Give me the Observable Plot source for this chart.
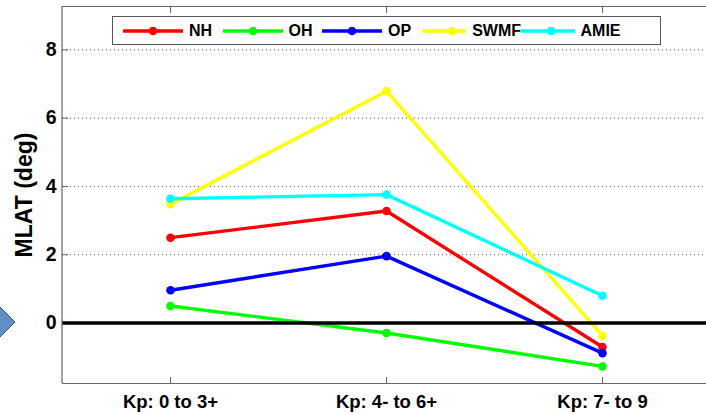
<!DOCTYPE html>
<html>
<head>
<meta charset="utf-8">
<script src="https://cdn.jsdelivr.net/npm/d3@7"></script>
<script src="https://cdn.jsdelivr.net/npm/@observablehq/plot@0.6"></script>
<style>
  html, body { margin: 0; padding: 0; background: #fff; }
  #wrap { position: relative; width: 706px; height: 414px; overflow: hidden; font-family: "Liberation Sans", Arial, sans-serif; }
  #legend { position: absolute; left: 112px; top: 16px; width: 549px; height: 29px; border: 1px solid #555; background: #fff;
            display: flex; align-items: center; font-weight: bold; font-size: 16px; color: #000; box-sizing: border-box; padding-left: 10px; }
  .item { display: flex; align-items: center; margin-right: 0; }
  .item svg { margin-right: 6px; }
  #arrow { position: absolute; left: 0; top: 0; }
</style>
</head>
<body>
<div id="wrap"></div>
<script>
const categories = ["Kp: 0 to 3+", "Kp: 4- to 6+", "Kp: 7- to 9"];
const seriesNames = ["NH", "OH", "OP", "SWMF", "AMIE"];
const seriesColors = ["#ff0000", "#00ff00", "#0000ff", "#ffff00", "#00ffff"];
const NH   = [2.5, 3.28, -0.7];
const OH   = [0.5, -0.29, -1.27];
const OP   = [0.96, 1.96, -0.88];
const SWMF = [3.48, 6.79, -0.37];
const AMIE = [3.64, 3.76, 0.8];
const yTicks = [0, 2, 4, 6, 8];
const gridTicks = [2, 4, 6, 8];
const yLabel = "MLAT (deg)";

const valuesBySeries = [NH, OH, OP, SWMF, AMIE];
const data = [];
seriesNames.forEach((s, i) => categories.forEach((c, j) => data.push({series: s, cat: c, value: valuesBySeries[i][j]})));

const yDomain = [-1.77, 9.27];

const chart = Plot.plot({
  width: 706,
  height: 414,
  marginLeft: 62,
  marginRight: 0,
  marginTop: 6,
  marginBottom: 31,
  style: {fontFamily: "'Liberation Sans', Arial, sans-serif", fontSize: "16px", fontWeight: "bold", color: "#000", background: "#fff"},
  x: {type: "point", domain: categories, range: [170, 602], padding: 0},
  y: {domain: yDomain},
  color: {domain: seriesNames, range: seriesColors},
  marks: [
    Plot.ruleY(gridTicks, {stroke: "#555", strokeDasharray: "1,3", strokeWidth: 1}),
    Plot.ruleY([yDomain[0], yDomain[1]], {stroke: "#666", strokeWidth: 1.2}),
    Plot.axisX({anchor: "bottom", tickSize: -6, text: null, label: null, stroke: "#666"}),
    Plot.axisX({anchor: "top", tickSize: -6, text: null, label: null, stroke: "#666"}),
    Plot.axisX({anchor: "bottom", tickSize: 0, tickPadding: 11, label: null, fontSize: 18.5, fontWeight: "bold"}),
    Plot.axisY({anchor: "left", ticks: yTicks, tickSize: -6, text: null, label: null, stroke: "#666"}),
    Plot.axisY({anchor: "left", ticks: yTicks, tickSize: 0, tickPadding: 6, label: yLabel, labelAnchor: "center", labelArrow: "none", labelOffset: 47, fontSize: 19.5, fontWeight: "bold"}),
    Plot.line(data, {x: "cat", y: "value", z: "series", stroke: "series", strokeWidth: 3.4}),
    Plot.dot(data, {x: "cat", y: "value", fill: "series", r: 4.3}),
    Plot.ruleY([0], {stroke: "#000", strokeWidth: 3.5})
  ]
});

const wrap = document.getElementById("wrap");
wrap.appendChild(chart);

// left-side vertical frame line
const svgNS = "http://www.w3.org/2000/svg";
const leftLine = document.createElementNS(svgNS, "line");
leftLine.setAttribute("x1", 62); leftLine.setAttribute("x2", 62);
leftLine.setAttribute("y1", 6); leftLine.setAttribute("y2", 383);
leftLine.setAttribute("stroke", "#666"); leftLine.setAttribute("stroke-width", 1.2);
chart.appendChild(leftLine);

// font sizes of y-axis texts
chart.querySelectorAll("text").forEach(t => {
  const s = t.textContent.trim();
  if (s === yLabel) { t.setAttribute("font-size", 23); t.style.fontSize = "23px"; }
  else if (yTicks.map(String).includes(s)) { t.setAttribute("font-size", 19.5); t.style.fontSize = "19.5px"; }
});

// legend
const legend = document.createElement("div");
legend.id = "legend";
seriesNames.forEach((s, i) => {
  const item = document.createElement("div");
  item.className = "item";
  item.style.width = "99.5px";
  item.innerHTML = `<svg width="60" height="12"><line x1="0" x2="60" y1="6" y2="6" stroke="${seriesColors[i]}" stroke-width="3.4"/><circle cx="30" cy="6" r="4.3" fill="${seriesColors[i]}"/></svg><span>${s}</span>`;
  legend.appendChild(item);
});
wrap.appendChild(legend);

// decorative arrow at the left
const arrow = document.createElementNS(svgNS, "svg");
arrow.setAttribute("id", "arrow");
arrow.setAttribute("width", 40); arrow.setAttribute("height", 414);
arrow.innerHTML = '<polygon points="-15,322 0,307 15,322 0,337" fill="#5f8fc6" stroke="#34527a" stroke-width="1"/>';
wrap.appendChild(arrow);
</script>
</body>
</html>
